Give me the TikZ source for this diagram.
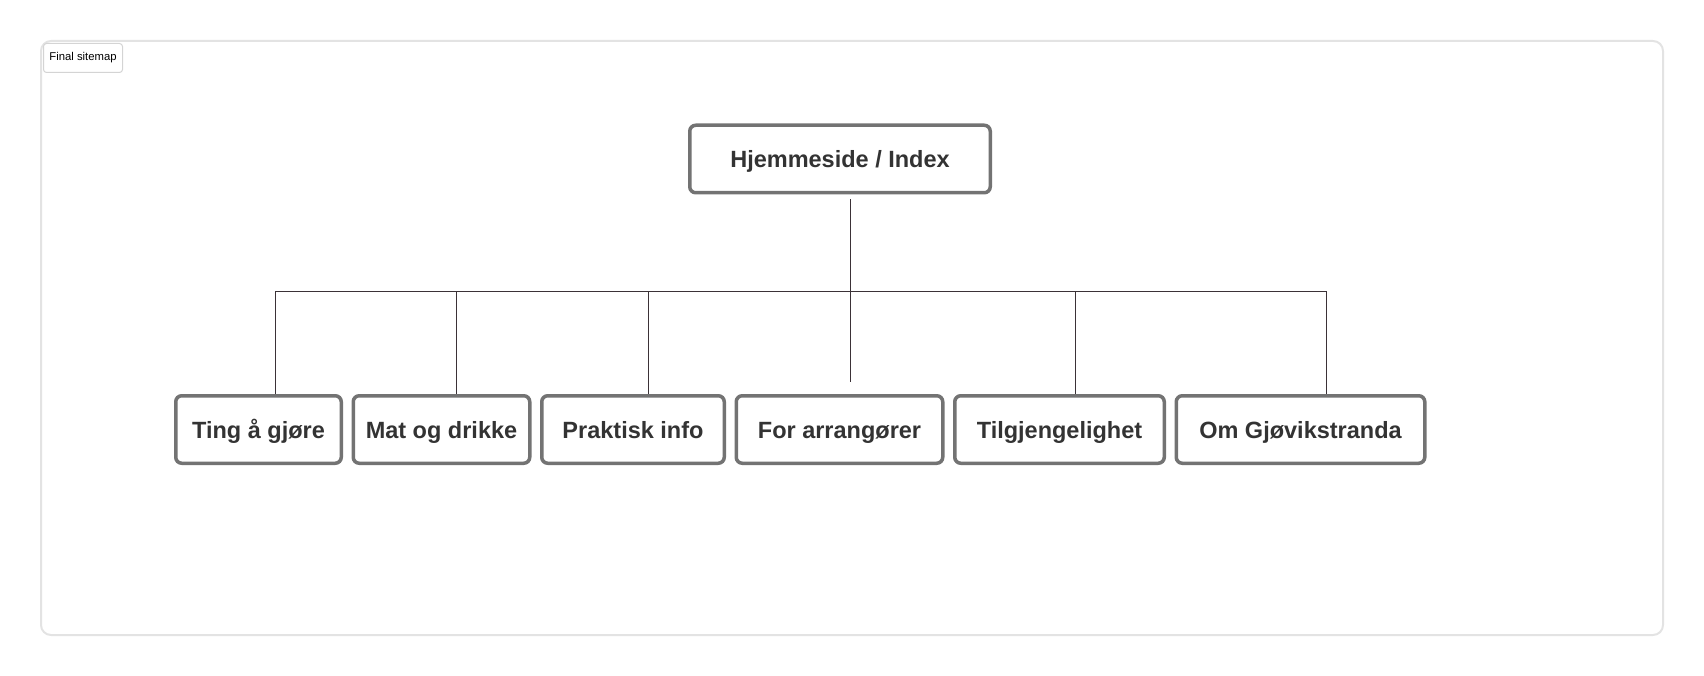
\documentclass[tikz,border=0pt]{standalone}
\usepackage{fontspec}
\setmainfont{Liberation Sans}
\usetikzlibrary{positioning}
\definecolor{boxgray}{HTML}{737373}
\definecolor{textgray}{HTML}{333333}
\definecolor{linegray}{HTML}{3B3237}
\definecolor{framegray}{HTML}{E3E3E3}
\definecolor{taggray}{HTML}{D4D4D4}
\begin{document}
\begin{tikzpicture}[
    x=1pt, y=-1pt,
    page/.style={rectangle, draw=boxgray, line width=3.5pt, rounded corners=6pt, fill=white, text=textgray, minimum height=67.5pt, inner sep=0pt, text height=23pt, text depth=5pt, font=\fontsize{23.5}{28}\selectfont\bfseries},
    line/.style={draw=linegray, line width=1pt},
    frame/.style={draw=framegray, line width=2pt, rounded corners=10pt},
    tag/.style={rectangle, draw=taggray, line width=1pt, rounded corners=3pt, fill=white, minimum width=79pt, minimum height=29pt, inner sep=0pt, font=\fontsize{11.3}{13}\selectfont}
]
\useasboundingbox (0,0) rectangle (1704,676);

% Frame
\draw[frame] (41,41) rectangle (1663,635);
\node[tag] (caption) at (83,58) {Final sitemap};

% Pages
\node[page, minimum width=300.5pt] (index) at (840,159) {Hjemmeside / Index};
\node[page, minimum width=165.5pt] (ting) at (258.5,429.5) {Ting å gjøre};
\node[page, minimum width=176.5pt, right=8.5pt of ting] (mat) {Mat og drikke};
\node[page, minimum width=182.5pt, right=8.5pt of mat] (info) {Praktisk info};
\node[page, minimum width=206.5pt, right=8.5pt of info] (arr) {For arrangører};
\node[page, minimum width=209.5pt, right=8.5pt of arr] (tilg) {Tilgjengelighet};
\node[page, minimum width=248.5pt, right=8.5pt of tilg] (om) {Om Gjøvikstranda};

% Bus
\coordinate (bus) at (0,291);
\coordinate (drop) at ([yshift=12pt]arr.north);
\draw[line] ([xshift=16.5pt]ting.north |- bus) -- ([xshift=25.5pt]om.north |- bus);

% Links
\draw[line] ([xshift=10pt, yshift=-5pt]index.south) -- ([xshift=10pt]index.south |- drop);
\draw[line] ([xshift=16.5pt]ting.north) -- ([xshift=16.5pt]ting.north |- bus);
\draw[line] ([xshift=14.5pt]mat.north) -- ([xshift=14.5pt]mat.north |- bus);
\draw[line] ([xshift=15pt]info.north) -- ([xshift=15pt]info.north |- bus);
\draw[line] ([xshift=15.5pt]tilg.north) -- ([xshift=15.5pt]tilg.north |- bus);
\draw[line] ([xshift=25.5pt]om.north) -- ([xshift=25.5pt]om.north |- bus);

\end{tikzpicture}
\end{document}
